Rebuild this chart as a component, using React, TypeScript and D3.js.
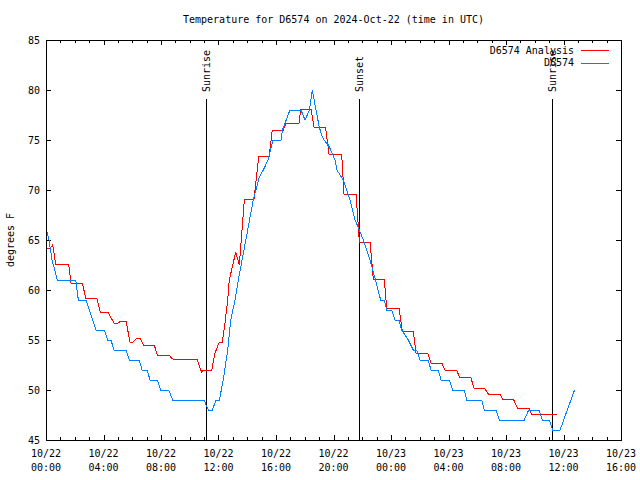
import React from "react";
import * as d3 from "d3";

// Hours since 2024-10-22 00:00 UTC
const analysisHours = [0.05, 0.31, 0.47, 0.67, 1.58, 1.74, 2.53, 2.76, 3.53, 3.78, 4.29, 4.73, 5.01, 5.22, 5.57, 5.84, 5.98, 6.31, 6.54, 6.77, 7.53, 7.74, 8.54, 8.81, 10.53, 10.82, 10.94, 11.53, 11.76, 12.06, 12.26, 12.45, 12.64, 12.75, 13.2, 13.45, 13.66, 13.8, 14.47, 14.8, 15.53, 15.74, 16.51, 16.7, 17.6, 17.72, 18.43, 18.64, 19.44, 19.69, 20.57, 20.73, 21.57, 21.8, 22.54, 22.77, 23.53, 23.7, 24.56, 24.79, 25.55, 25.74, 26.55, 26.78, 27.53, 27.76, 28.57, 28.75, 29.54, 29.77, 30.49, 30.77, 31.58, 31.76, 32.51, 32.79, 33.59, 33.76, 35.53];
const analysisTemps = [64.2, 64.2, 64.5, 62.6, 62.6, 60.7, 60.7, 59.2, 59.2, 57.8, 57.8, 56.7, 56.7, 56.9, 56.9, 54.8, 54.7, 55.2, 55.2, 54.5, 54.5, 53.5, 53.5, 53.1, 53.0, 51.8, 52.0, 52.0, 53.7, 54.8, 54.8, 56.7, 59.0, 61.0, 63.8, 62.5, 66.5, 69.1, 69.1, 73.4, 73.4, 76.0, 76.0, 76.7, 76.7, 78.1, 78.1, 76.3, 76.3, 73.6, 73.6, 69.6, 69.6, 64.8, 64.8, 61.1, 61.1, 58.2, 58.2, 55.9, 55.9, 53.7, 53.7, 52.7, 52.7, 52.0, 52.0, 51.3, 51.3, 50.2, 50.2, 49.6, 49.6, 49.1, 49.1, 48.2, 48.2, 47.6, 47.6];

const obsHours = [0.03, 0.21, 0.42, 0.79, 2.07, 2.25, 2.78, 3.48, 4.06, 4.29, 4.52, 4.73, 5.57, 5.79, 6.49, 6.68, 7.05, 7.23, 7.74, 7.98, 8.54, 8.81, 10.99, 11.29, 11.57, 11.83, 12.06, 12.33, 12.64, 12.85, 13.15, 13.38, 14.42, 14.84, 15.19, 15.44, 15.79, 16.35, 16.45, 16.97, 17.74, 18.02, 18.32, 18.53, 18.78, 19.01, 19.18, 19.34, 19.64, 19.87, 20.1, 20.24, 20.68, 21.15, 21.5, 21.8, 22.07, 22.54, 22.92, 23.28, 23.53, 23.7, 24.05, 24.28, 24.56, 24.74, 25.2, 25.55, 25.79, 26.02, 26.59, 26.78, 27.29, 27.48, 28.06, 28.29, 29.1, 29.27, 30.31, 30.49, 31.3, 31.53, 33.27, 33.58, 34.3, 34.52, 35.01, 35.25, 35.76, 36.77];
const obsTemps = [66, 65, 63, 61, 61, 59, 59, 56, 56, 55, 55, 54, 54, 53, 53, 52, 52, 51, 51, 50, 50, 49, 49, 48, 48, 49, 49, 51, 54, 57, 59, 61, 69, 71.3, 72.2, 73, 75, 75, 76, 78, 78, 77, 78, 80, 78, 76.3, 75.5, 75, 74.5, 73.8, 73, 72, 71, 69, 67, 66, 65, 63, 61, 59, 59, 58, 58, 57, 57, 56, 55, 54, 54, 53, 53, 52, 52, 51, 51, 50, 50, 49, 49, 48, 48, 47, 47, 48, 48, 47, 47, 46, 46, 50];

const eventHours = [11.22, 21.82, 35.24];
const eventLabels = ["Sunrise", "Sunset", "Sunrise"];

const xMajorTicks = [0, 4, 8, 12, 16, 20, 24, 28, 32, 36, 40];
const xDateLabels = ["10/22", "10/22", "10/22", "10/22", "10/22", "10/22", "10/23", "10/23", "10/23", "10/23", "10/23"];
const xTimeLabels = ["00:00", "04:00", "08:00", "12:00", "16:00", "20:00", "00:00", "04:00", "08:00", "12:00", "16:00"];
const yTicks = [45, 50, 55, 60, 65, 70, 75, 80, 85];

const seriesNames = ["D6574 Analysis", "D6574"];
const seriesColors = ["#ff0000", "#0080ff"];

const FONT = "'DejaVu Sans Mono', 'Liberation Mono', monospace";

export default function App() {
  const W = 640, H = 480;
  const L = 46, R = 621, T = 40, B = 440;
  const x = d3.scaleLinear().domain([0, 40]).range([L, R]);
  const y = d3.scaleLinear().domain([45, 85]).range([B, T]);
  const line = d3.line<[number, number]>().x(d => x(d[0])).y(d => y(d[1]));
  const anaPts = analysisHours.map((h, i) => [h, analysisTemps[i]] as [number, number]);
  const obsPts = obsHours.map((h, i) => [h, obsTemps[i]] as [number, number]);
  const minor = d3.range(0, 41, 1);

  return (
    <svg width={W} height={H} style={{ position: "absolute", left: 0, top: 0, background: "#fff" }} fontFamily={FONT}>
      <rect x={0} y={0} width={W} height={H} fill="#fff" />
      <text x={(L + R) / 2} y={23} fontSize={10} textAnchor="middle">Temperature for D6574 on 2024-Oct-22 (time in UTC)</text>
      <text transform={`translate(14,240) rotate(-90)`} fontSize={10} textAnchor="middle">degrees F</text>

      <g shapeRendering="crispEdges" stroke="#000" strokeWidth={1}>
        {minor.map(h => {
          const major = h % 4 === 0;
          const len = major ? 5 : 3;
          const xx = Math.round(x(h)) + 0.5;
          return (
            <g key={"xt" + h}>
              <line x1={xx} x2={xx} y1={B} y2={B - len} />
              <line x1={xx} x2={xx} y1={T} y2={T + len} />
            </g>
          );
        })}
        {yTicks.map(v => {
          const yy = Math.round(y(v)) + 0.5;
          return (
            <g key={"yt" + v}>
              <line x1={L} x2={L + 5} y1={yy} y2={yy} />
              <line x1={R} x2={R - 5} y1={yy} y2={yy} />
            </g>
          );
        })}
      </g>

      {yTicks.map(v => (
        <text key={"yl" + v} x={40} y={y(v) + 3.5} fontSize={10} textAnchor="end">{v}</text>
      ))}
      {xMajorTicks.map((h, i) => (
        <g key={"xl" + h}>
          <text x={x(h)} y={457} fontSize={10} textAnchor="middle">{xDateLabels[i]}</text>
          <text x={x(h)} y={471} fontSize={10} textAnchor="middle">{xTimeLabels[i]}</text>
        </g>
      ))}

      {eventHours.map((h, i) => {
        const xx = Math.round(x(h)) - 0.5;
        return (
          <g key={"ev" + i}>
            <line x1={xx} x2={xx} y1={99} y2={B} stroke="#000" strokeWidth={1} shapeRendering="crispEdges" />
            <text transform={`translate(${xx + 3.5},92) rotate(-90)`} fontSize={10} textAnchor="start">{eventLabels[i]}</text>
          </g>
        );
      })}

      <path d={line(anaPts) || ""} fill="none" stroke={seriesColors[0]} strokeWidth={1} shapeRendering="crispEdges" />
      <path d={line(obsPts) || ""} fill="none" stroke={seriesColors[1]} strokeWidth={1} shapeRendering="crispEdges" />

      {seriesNames.map((name, i) => {
        const yy = 50 + i * 12.5;
        return (
          <g key={"lg" + i}>
            <text x={574} y={yy + 3.5} fontSize={10} textAnchor="end">{name}</text>
            <line x1={581} x2={609} y1={Math.round(yy) + 0.5} y2={Math.round(yy) + 0.5} stroke={seriesColors[i]} strokeWidth={1} shapeRendering="crispEdges" />
          </g>
        );
      })}

      <rect x={L + 0.5} y={T + 0.5} width={R - L} height={B - T} fill="none" stroke="#000" strokeWidth={1} shapeRendering="crispEdges" />
    </svg>
  );
}
